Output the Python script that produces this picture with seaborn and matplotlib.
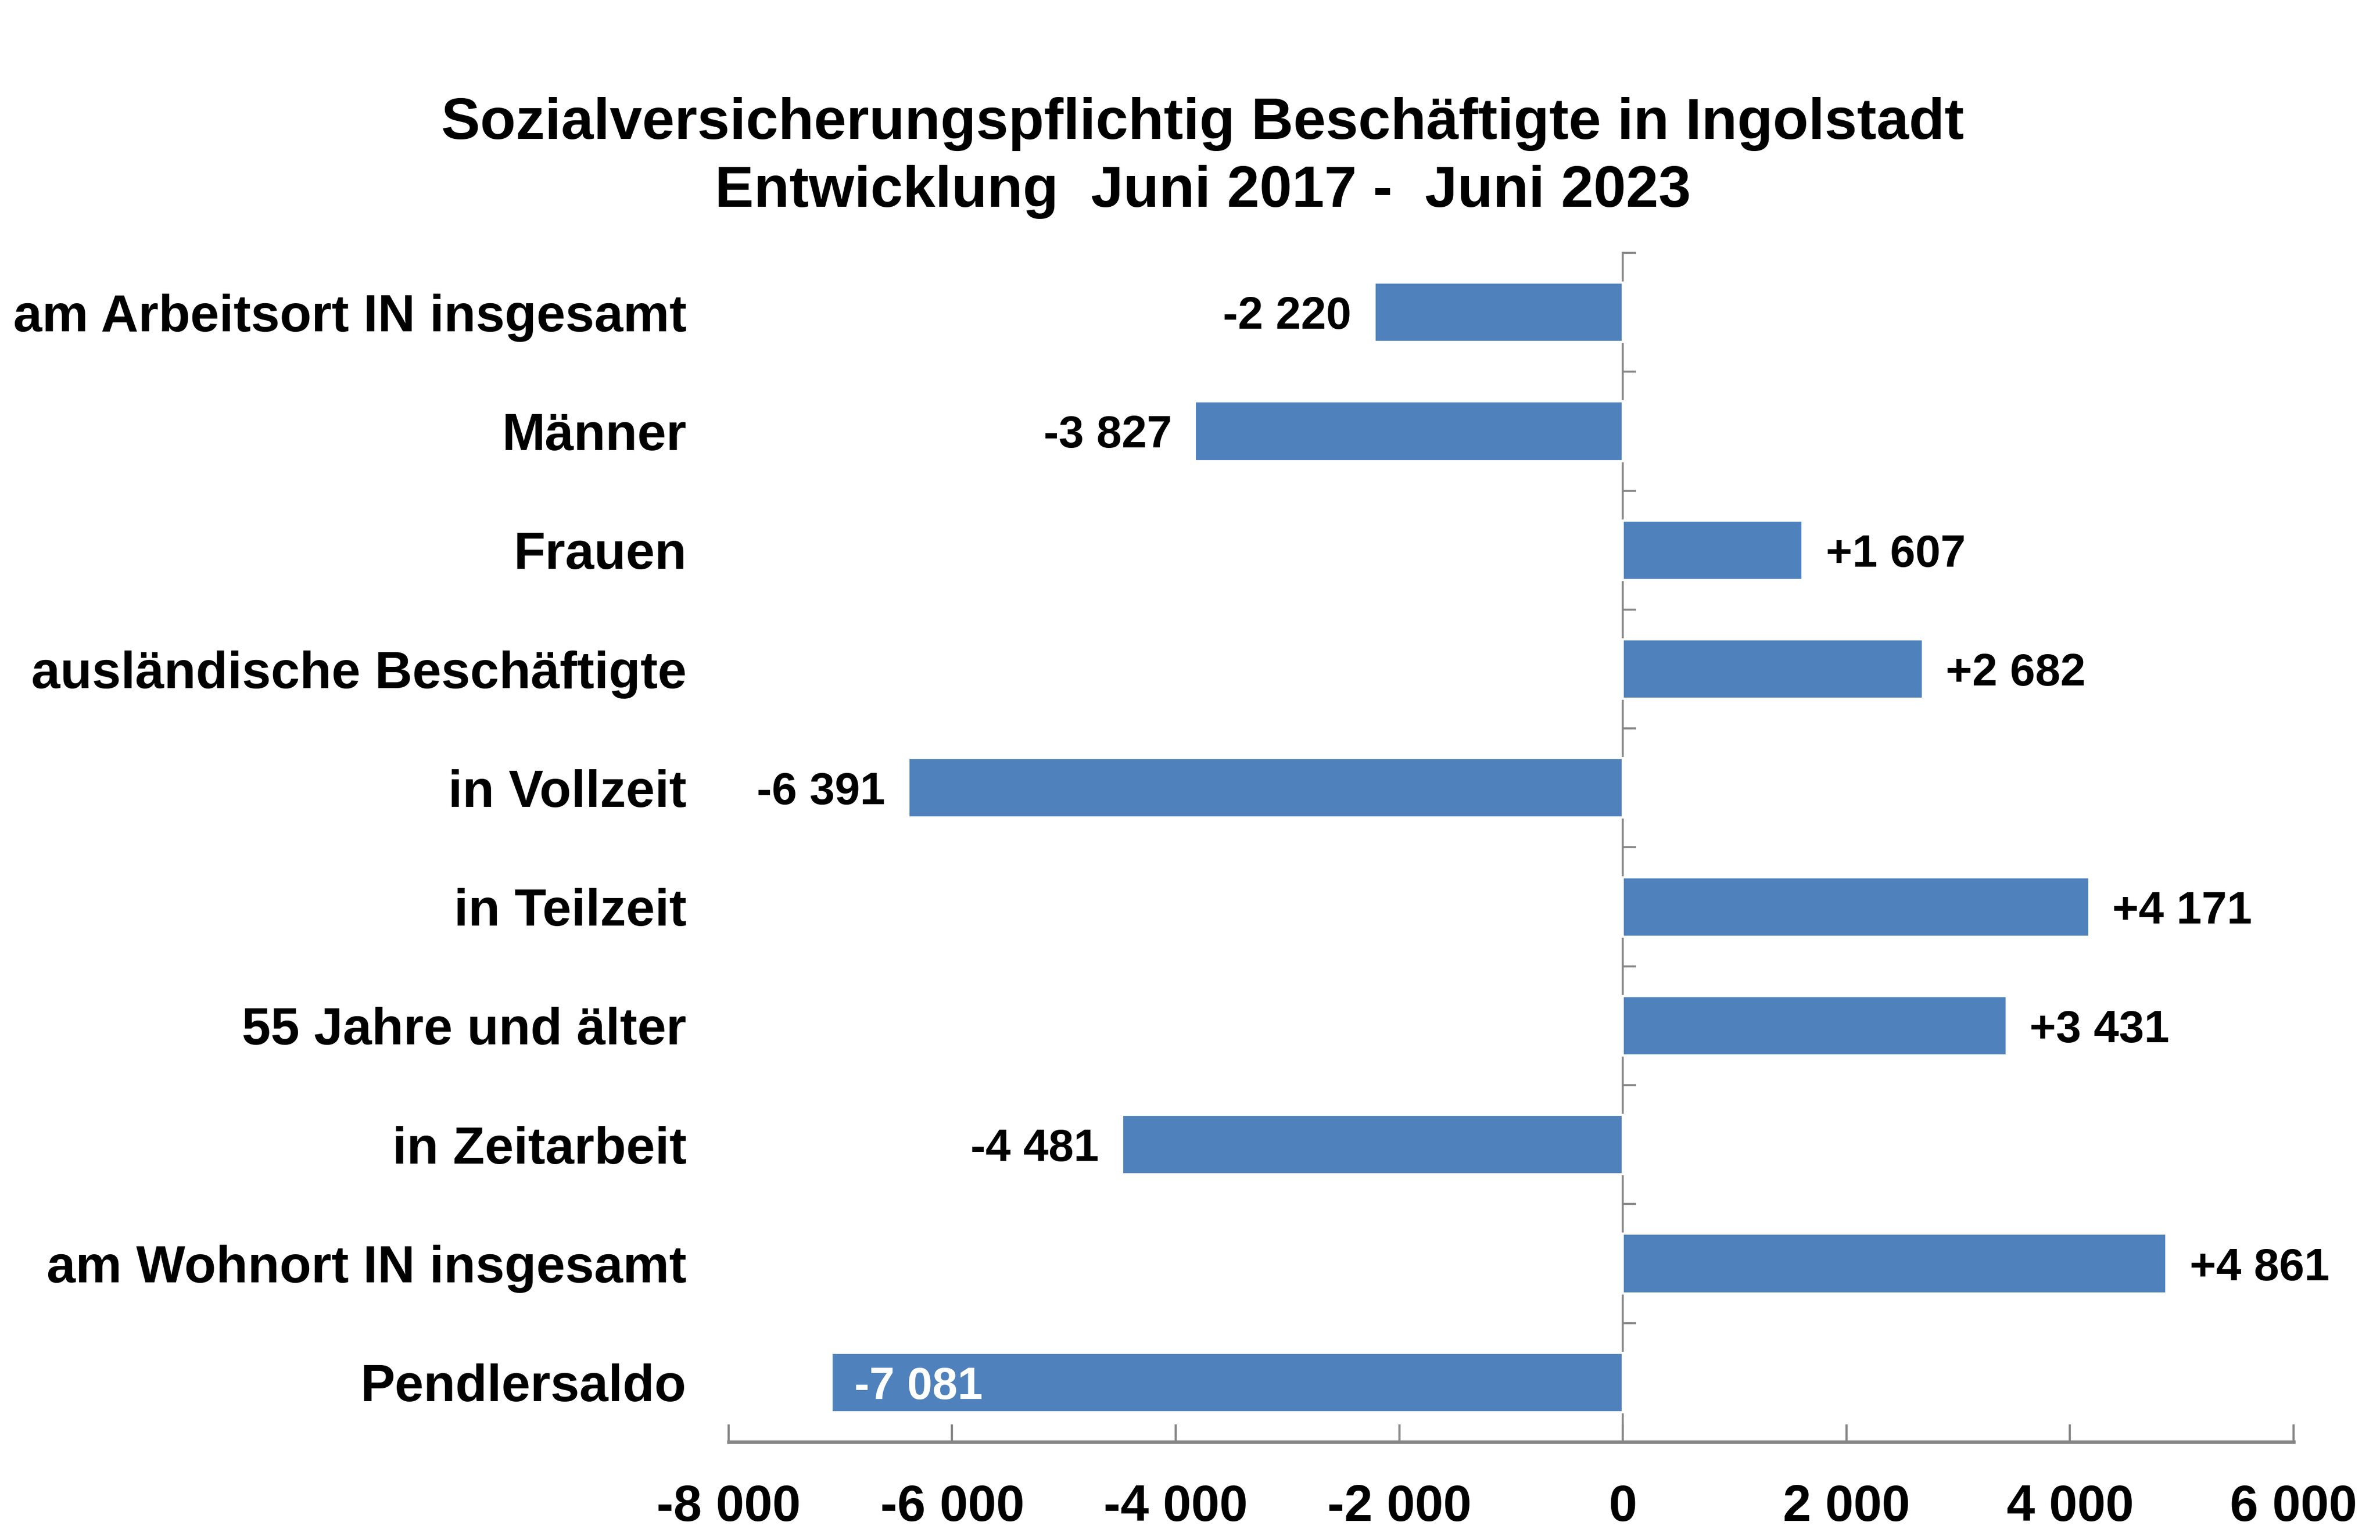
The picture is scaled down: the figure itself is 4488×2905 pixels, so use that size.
"""Sozialversicherungspflichtig Beschäftigte in Ingolstadt, Juni 2017 - Juni 2023."""

import matplotlib

matplotlib.use("Agg")
import matplotlib.pyplot as plt
import numpy as np
import pandas as pd
import seaborn as sns
from matplotlib.ticker import FuncFormatter

categories = [
    "am Arbeitsort IN insgesamt",
    "Männer",
    "Frauen",
    "ausländische Beschäftigte",
    "in Vollzeit",
    "in Teilzeit",
    "55 Jahre und älter",
    "in Zeitarbeit",
    "am Wohnort IN insgesamt",
    "Pendlersaldo",
]
changes = [-2220, -3827, 1607, 2682, -6391, 4171, 3431, -4481, 4861, -7081]
x_ticks = [-8000, -6000, -4000, -2000, 0, 2000, 4000, 6000]
title_lines = [
    "Sozialversicherungspflichtig Beschäftigte in Ingolstadt",
    "Entwicklung  Juni 2017 -  Juni 2023",
]

BAR = "#4F81BD"
GREY = "#868686"


def spaced(value, sign=False):
    text = f"{int(value):+,}" if sign else f"{int(value):,}"
    return text.replace(",", " ")


sns.set_style("white")
plt.rcParams["font.family"] = ["Liberation Sans", "DejaVu Sans"]
plt.rcParams["font.weight"] = "bold"
plt.rcParams["text.color"] = "black"
plt.rcParams["xtick.labelcolor"] = "black"
plt.rcParams["ytick.labelcolor"] = "black"

data = pd.DataFrame({"Gruppe": categories, "Veränderung": changes})

fig, ax = plt.subplots(figsize=(4488 / 300, 2905 / 300), dpi=300)
fig.subplots_adjust(left=0.3061, right=0.9637, top=0.8358, bottom=0.0637)

sns.barplot(data=data, x="Veränderung", y="Gruppe", orient="y", color=BAR,
            saturation=1, width=0.5, ax=ax)
ax.set_xlim(x_ticks[0], x_ticks[-1])
ax.set_xticks(x_ticks)
ax.xaxis.set_major_formatter(FuncFormatter(lambda v, _: spaced(v)))
ax.set_xlabel("")
ax.set_ylabel("")

for side in ("top", "right", "left"):
    ax.spines[side].set_visible(False)
ax.spines["bottom"].set_color(GREY)
ax.spines["bottom"].set_linewidth(1.6)
ax.tick_params(axis="x", bottom=True, direction="in", length=8, width=1.0,
               color=GREY, labelcolor="black", pad=19, labelsize=23)
ax.tick_params(axis="y", left=False, length=0, pad=19, labelsize=23.5,
               labelcolor="black")
for label in ax.get_xticklabels() + ax.get_yticklabels():
    label.set_fontweight("bold")

# zero line with category separators
zero = ax.secondary_yaxis(0, transform=ax.transData)
zero.set_yticks(np.arange(len(categories) + 1) - 0.5)
zero.spines["left"].set_color(GREY)
zero.spines["left"].set_linewidth(0.9)
zero.tick_params(direction="in", length=6, width=0.9, color=GREY,
                 labelleft=False, labelright=False)

# value labels
outside = [spaced(v, sign=True) if v > -7000 else "" for v in changes]
texts = ax.bar_label(ax.containers[0], labels=outside, padding=10.5,
                     fontsize=20.5, fontweight="bold", color="black")
for t in texts:
    t.set_verticalalignment("center_baseline")
for i, v in enumerate(changes):
    if v <= -7000:
        ax.annotate(spaced(v, sign=True), xy=(v, i), xytext=(10.5, 0),
                    textcoords="offset points", ha="left",
                    va="center_baseline", color="white", fontsize=20.5,
                    fontweight="bold")

fig.text(0.5054, 0.9098, title_lines[0], ha="center", va="baseline",
         fontsize=26.4, fontweight="bold")
fig.text(0.5054, 0.8657, title_lines[1], ha="center", va="baseline",
         fontsize=26.4, fontweight="bold")

fig.savefig("out.png", dpi=300)
